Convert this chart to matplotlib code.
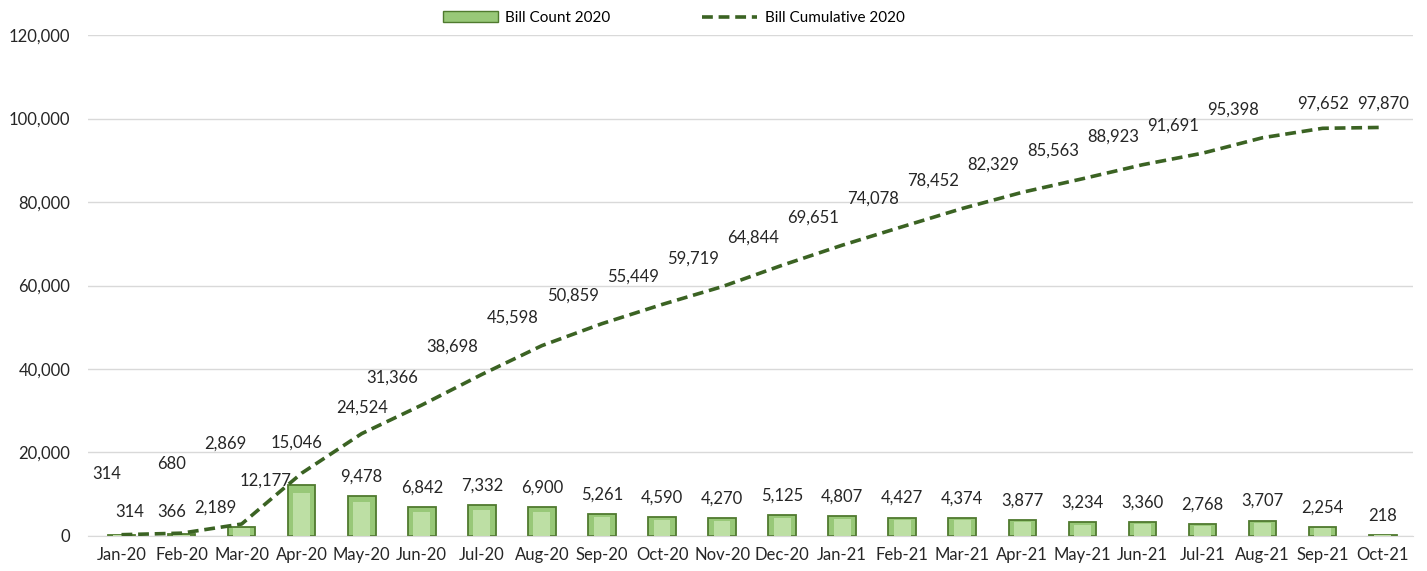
import matplotlib.pyplot as plt
from matplotlib.lines import Line2D
from matplotlib.patches import Patch

plt.rcParams['font.family'] = ['Lato', 'DejaVu Sans']

months = ['Jan-20', 'Feb-20', 'Mar-20', 'Apr-20', 'May-20', 'Jun-20', 'Jul-20', 'Aug-20',
          'Sep-20', 'Oct-20', 'Nov-20', 'Dec-20', 'Jan-21', 'Feb-21', 'Mar-21', 'Apr-21',
          'May-21', 'Jun-21', 'Jul-21', 'Aug-21', 'Sep-21', 'Oct-21']
bill_count = [314, 366, 2189, 12177, 9478, 6842, 7332, 6900, 5261, 4590, 4270, 5125,
              4807, 4427, 4374, 3877, 3234, 3360, 2768, 3707, 2254, 218]
bill_cumulative = [314, 680, 2869, 15046, 24524, 31366, 38698, 45598, 50859, 55449, 59719,
                   64844, 69651, 74078, 78452, 82329, 85563, 88923, 91691, 95398, 97652, 97870]

# label offsets in points (dx, dy) where the default spot does not fit
cum_off = {0: (-11, 44), 1: (-7, 50), 2: (-12, 58), 3: (-4, 22), 4: (0, 19), 20: (0, 18), 21: (0, 17)}
bar_off = {0: (6, 16), 1: (-7, 16), 2: (-19, 14), 3: (-26, 3)}

fig, ax = plt.subplots(figsize=(14.27, 5.71), dpi=100)
fig.subplots_adjust(left=0.062, right=0.99, bottom=0.0613, top=0.9387)

x = range(len(months))
# bar + lighter inner bar for the bevel look
ax.bar(x, bill_count, width=0.46, color='#98c878', edgecolor='#4f7a2e', linewidth=1.3, zorder=2)
ax.bar(x, [v * 0.85 for v in bill_count], width=0.28, color='#bddfa4', linewidth=0, zorder=2)
ax.plot(x, bill_cumulative, color='#3b6323', lw=2.6, ls=(0, (3, 1.6)), zorder=3)

for i, v in enumerate(bill_count):
    dx, dy = bar_off.get(i, (0, 14))
    ax.annotate(f'{v:,}', (i, v), xytext=(dx, dy), textcoords='offset points',
                ha='center', va='center', fontsize=12, color='#262626')
for i, v in enumerate(bill_cumulative):
    dx, dy = cum_off.get(i, (-21, 20))
    ax.annotate(f'{v:,}', (i, v), xytext=(dx, dy), textcoords='offset points',
                ha='center', va='center', fontsize=12, color='#262626')

ax.set_xlim(-0.55, 21.5)
ax.set_ylim(0, 120000)
ax.set_yticks(range(0, 120001, 20000))
ax.set_yticklabels([f'{t:,}' for t in range(0, 120001, 20000)])
ax.set_xticks(list(x))
ax.set_xticklabels(months)
ax.tick_params(length=0, labelsize=12, labelcolor='#262626')
ax.tick_params(axis='y', pad=13)
ax.tick_params(axis='x', pad=8)
ax.grid(axis='y', color='#d9d9d9', lw=1, zorder=0)
for s in ['top', 'right', 'left']:
    ax.spines[s].set_visible(False)
ax.spines['bottom'].set_color('#d9d9d9')

handles = [Patch(facecolor='#98c878', edgecolor='#4f7a2e', label='Bill Count 2020'),
           Line2D([], [], color='#3b6323', lw=2.6, ls=(0, (3, 1.6)), label='Bill Cumulative 2020')]
fig.legend(handles=handles, loc='upper center', bbox_to_anchor=(0.472, 1.005), ncol=2,
           frameon=False, fontsize=11, handlelength=3.6, handleheight=0.7,
           columnspacing=6, handletextpad=0.5)

fig.savefig('out.png')
